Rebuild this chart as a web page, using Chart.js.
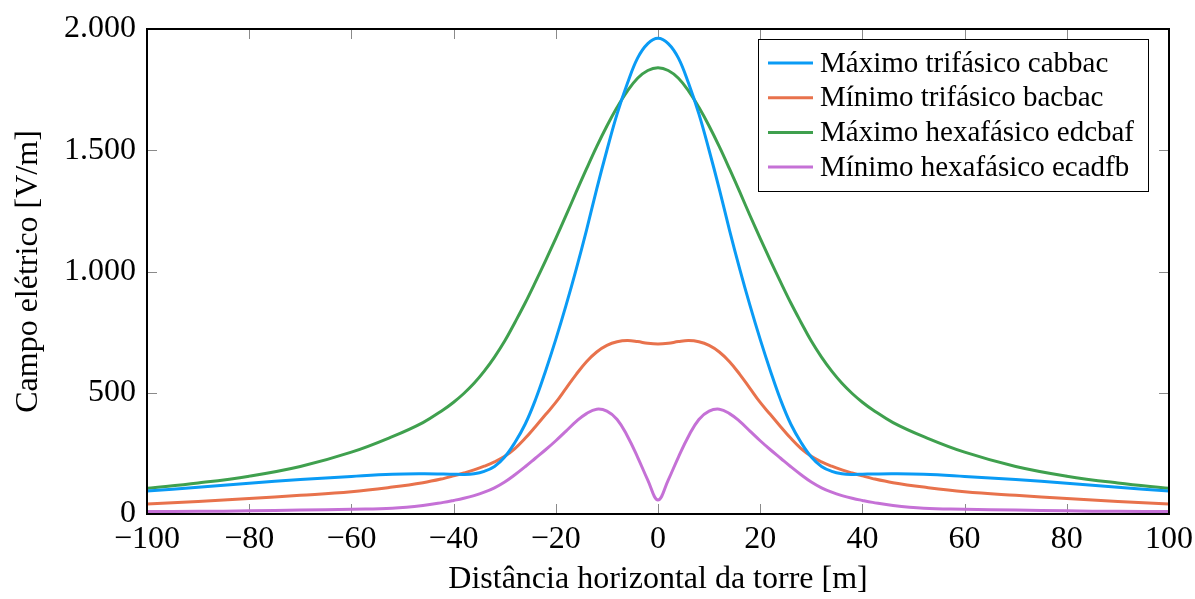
<!DOCTYPE html>
<html>
<head>
<meta charset="utf-8">
<script src="https://cdn.jsdelivr.net/npm/chart.js@4/dist/chart.umd.min.js"></script>
<style>
  html, body { margin: 0; padding: 0; background: #fff; }
  #wrap { width: 1195px; height: 599px; }
</style>
</head>
<body>
<div id="wrap"><canvas id="campo" width="1195" height="599"></canvas></div>
<script>
// distância à torre [m]
const distancias = [-100, -90, -80, -70, -60, -52, -46, -42,
  -40, -38, -36, -34, -32, -30, -28, -26, -24, -22, -20, -18, -16, -14, -12, -10, -8, -6, -4, -2, 0,
  2, 4, 6, 8, 10, 12, 14, 16, 18, 20, 22, 24, 26, 28, 30, 32, 34, 36, 38, 40,
  42, 46, 52, 60, 70, 80, 90, 100];

// campo elétrico [V/m]
const maxTrifasico = [95, 110, 127, 142, 155, 164, 166, 165,
  164, 163, 166, 176, 196, 235, 295, 370, 470, 590, 720, 860, 1010, 1170, 1340, 1500, 1650, 1775, 1880, 1940, 1962,
  1940, 1880, 1775, 1650, 1500, 1340, 1170, 1010, 860, 720, 590, 470, 370, 295, 235, 196, 176, 166, 163, 164,
  165, 166, 164, 155, 142, 127, 110, 95];
const minTrifasico = [41, 52, 64, 77, 92, 111, 129, 146,
  157, 169, 182, 197, 215, 238, 270, 312, 360, 410, 460, 518, 576, 628, 668, 695, 710, 715, 711, 704, 701,
  704, 711, 715, 710, 695, 668, 628, 576, 518, 460, 410, 360, 312, 270, 238, 215, 197, 182, 169, 157,
  146, 129, 111, 92, 77, 64, 52, 41];
const maxHexafasico = [106, 128, 156, 196, 255, 319, 377, 430,
  461, 497, 539, 589, 647, 713, 790, 870, 956, 1045, 1137, 1231, 1328, 1423, 1515, 1600, 1677, 1744, 1797, 1829, 1840,
  1829, 1797, 1744, 1677, 1600, 1515, 1423, 1328, 1231, 1137, 1045, 956, 870, 790, 713, 647, 589, 539, 497, 461,
  430, 377, 319, 255, 196, 156, 128, 106];
const minHexafasico = [10, 11, 13, 16, 20, 24, 35, 48,
  56, 65, 76, 90, 108, 132, 162, 195, 230, 265, 302, 342, 382, 414, 432, 424, 390, 322, 235, 140, 58,
  140, 235, 322, 390, 424, 432, 414, 382, 342, 302, 265, 230, 195, 162, 132, 108, 90, 76, 65, 56,
  48, 35, 24, 20, 16, 13, 11, 10];

const nomes = ["Máximo trifásico cabbac", "Mínimo trifásico bacbac", "Máximo hexafásico edcbaf", "Mínimo hexafásico ecadfb"];
const cores = ["#0a9bf5", "#e8724c", "#3fa04e", "#c571d6"];
const xTicks = [-100, -80, -60, -40, -20, 0, 20, 40, 60, 80, 100];
const yTicks = [0, 500, 1000, 1500, 2000];

const SERIF = "'Liberation Serif', 'Times New Roman', serif";

function serie(valores) {
  return distancias.map((d, i) => ({ x: d, y: valores[i] }));
}

function milhar(v) {
  if (v >= 1000) return Math.floor(v / 1000) + "." + String(v % 1000).padStart(3, "0");
  return String(v);
}

// marcas de escala para dentro, estilo pgfplots, nos quatro lados
const marcasInternas = {
  id: "marcasInternas",
  beforeDatasetsDraw(chart) {
    const { ctx, chartArea: a, scales: { x, y } } = chart;
    const len = 10;
    ctx.save();
    ctx.strokeStyle = "#8a8a8a";
    ctx.lineWidth = 1;
    ctx.beginPath();
    x.ticks.forEach((t) => {
      const px = Math.round(x.getPixelForValue(t.value)) + 0.5;
      ctx.moveTo(px, a.bottom); ctx.lineTo(px, a.bottom - len);
      ctx.moveTo(px, a.top); ctx.lineTo(px, a.top + len);
    });
    y.ticks.forEach((t) => {
      const py = Math.round(y.getPixelForValue(t.value)) + 0.5;
      ctx.moveTo(a.left, py); ctx.lineTo(a.left + len, py);
      ctx.moveTo(a.right, py); ctx.lineTo(a.right - len, py);
    });
    ctx.stroke();
    ctx.restore();
  },
  afterDatasetsDraw(chart) {
    const { ctx, chartArea: a } = chart;
    ctx.save();
    ctx.strokeStyle = "#000";
    ctx.lineWidth = 2;
    ctx.strokeRect(a.left, a.top, a.right - a.left, a.bottom - a.top);
    ctx.restore();
  },
};

// legenda dentro da área do gráfico, canto superior direito
const legendaCaixa = {
  id: "legendaCaixa",
  afterDraw(chart) {
    const { ctx, chartArea: a } = chart;
    const w = 390, h = 152, rowH = 34.7;
    const left = a.right - 21 - w;
    const top = a.top + 10;
    ctx.save();
    ctx.fillStyle = "#fff";
    ctx.fillRect(left, top, w, h);
    ctx.strokeStyle = "#000";
    ctx.lineWidth = 1;
    ctx.strokeRect(left + 0.5, top + 0.5, w, h);
    ctx.font = "29px " + SERIF;
    ctx.textBaseline = "middle";
    chart.data.datasets.forEach((ds, i) => {
      const cy = top + 24 + i * rowH;
      ctx.strokeStyle = ds.borderColor;
      ctx.lineWidth = 3;
      ctx.beginPath();
      ctx.moveTo(left + 10, cy);
      ctx.lineTo(left + 55, cy);
      ctx.stroke();
      ctx.fillStyle = "#000";
      ctx.fillText(ds.label, left + 62, cy + 1);
    });
    ctx.restore();
  },
};

const datasets = [maxTrifasico, minTrifasico, maxHexafasico, minHexafasico].map((vals, i) => ({
  label: nomes[i],
  data: serie(vals),
  borderColor: cores[i],
  backgroundColor: cores[i],
  borderWidth: 3,
  pointRadius: 0,
  fill: false,
  tension: 0.4,
}));

new Chart(document.getElementById("campo"), {
  type: "line",
  data: { datasets },
  options: {
    responsive: false,
    animation: false,
    devicePixelRatio: 1,
    layout: { padding: { top: 29, right: 26, left: 0, bottom: 0 } },
    plugins: { legend: { display: false }, tooltip: { enabled: false } },
    scales: {
      x: {
        type: "linear",
        min: -100,
        max: 100,
        afterBuildTicks: (s) => { s.ticks = xTicks.map((v) => ({ value: v })); },
        afterFit: (s) => { s.height = 85; s.paddingLeft = 0; s.paddingRight = 0; },
        grid: { display: false, drawTicks: false },
        border: { display: false },
        ticks: {
          padding: 6,
          color: "#000",
          font: { family: SERIF, size: 32, lineHeight: 1.2 },
          maxRotation: 0,
          callback: (v) => (v < 0 ? "\u2212" + Math.abs(v) : String(v)),
        },
        title: {
          display: true,
          text: "Distância horizontal da torre [m]",
          color: "#000",
          font: { family: SERIF, size: 32, lineHeight: 1.2 },
          padding: { top: 0, bottom: 0 },
        },
      },
      y: {
        min: 0,
        max: 2000,
        afterBuildTicks: (s) => { s.ticks = yTicks.map((v) => ({ value: v })); },
        afterFit: (s) => { s.width = 147; s.paddingTop = 0; s.paddingBottom = 0; },
        grid: { display: false, drawTicks: false },
        border: { display: false },
        ticks: {
          padding: 11,
          color: "#000",
          font: { family: SERIF, size: 32, lineHeight: 1.2 },
          callback: (v) => milhar(v),
        },
        title: {
          display: true,
          text: "Campo elétrico [V/m]",
          color: "#000",
          font: { family: SERIF, size: 32, lineHeight: 1.2 },
          padding: { top: 9, bottom: 0 },
        },
      },
    },
  },
  plugins: [marcasInternas, legendaCaixa],
});
</script>
</body>
</html>
